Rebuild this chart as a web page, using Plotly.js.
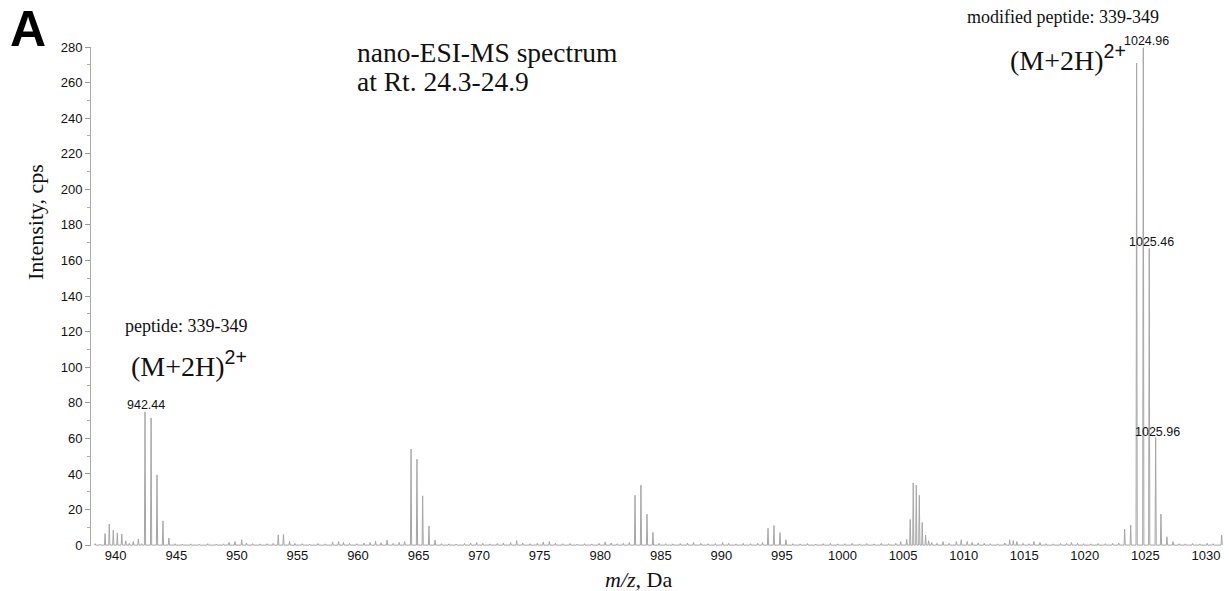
<!DOCTYPE html>
<html>
<head>
<meta charset="utf-8">
<script src="https://cdn.plot.ly/plotly-3.0.1.min.js"></script>
<style>html,body{margin:0;padding:0;background:#fff;}#chart{width:1229px;height:591px;}</style>
</head>
<body>
<div id="chart"></div>
<script>
// m/z of centroid peaks (Da)
const peakMz = [
  938.3, 938.7, 939.12, 939.47, 939.80, 940.13, 940.50, 940.83, 941.12, 941.45, 941.87, 942.15,
  942.42, 942.92, 943.41, 943.90, 944.39,
  944.9, 945.5, 946.2, 946.9, 947.6, 948.3, 948.9, 949.35, 949.85, 950.4, 950.8, 951.3, 951.9, 952.5, 953.0,
  953.42, 953.85, 954.35, 954.8, 955.4, 956.0, 956.7, 957.3, 957.9, 958.4, 958.8, 959.3, 959.9, 960.5, 961.0, 961.45, 961.9, 962.4, 962.9, 963.4, 963.85,
  964.38, 964.87, 965.34, 965.86, 966.36,
  966.9, 967.5, 968.1, 968.8, 969.3, 969.8, 970.3, 970.9, 971.5, 972.0, 972.6, 973.1, 973.6, 974.2, 974.8, 975.3, 975.8, 976.3, 976.9, 977.5, 978.1, 978.7, 979.3, 979.9, 980.4, 980.9, 981.4, 981.9, 982.4,
  982.87, 983.36, 983.86, 984.35, 984.85,
  985.4, 986.0, 986.6, 987.2, 987.7, 988.3, 988.9, 989.5, 990.1, 990.6, 991.2, 991.8, 992.4, 993.0, 993.4,
  993.85, 994.34, 994.84, 995.33,
  995.9, 996.5, 997.1, 997.8, 998.4, 999.0, 999.6, 1000.2, 1000.8, 1001.4, 1002.0, 1002.6, 1003.2, 1003.8, 1004.4, 1004.8,
  1005.30, 1005.59, 1005.84, 1006.09, 1006.34, 1006.58, 1006.86, 1007.11, 1007.36,
  1007.8, 1008.3, 1008.8, 1009.4, 1009.8, 1010.3, 1010.7, 1011.2, 1011.7, 1012.2, 1012.8, 1013.4, 1013.8, 1014.1, 1014.4, 1014.9, 1015.4, 1015.8, 1016.3, 1016.8, 1017.4, 1018.0, 1018.5, 1018.9, 1019.4, 1019.9, 1020.5, 1021.1, 1021.7, 1022.3, 1022.8,
  1023.29, 1023.79, 1024.28, 1024.83, 1025.32, 1025.85, 1026.29, 1026.78, 1027.28,
  1027.8, 1028.3, 1028.9, 1029.5, 1030.1, 1030.6, 1031.30
];
// intensities (cps) of those peaks
const peakIntensity = [
  0.8, 0.5, 6.5, 11.8, 8.4, 6.7, 6.2, 2.4, 1.0, 2.0, 3.4, 0.8,
  74.9, 71.5, 39.5, 13.6, 4.0,
  0.8, 0.6, 0.7, 0.5, 0.8, 0.6, 0.7, 1.5, 2.0, 3.0, 1.2, 0.8, 0.7, 0.8, 1.0,
  5.8, 6.0, 2.2, 1.0, 0.8, 0.6, 0.9, 0.7, 1.8, 2.0, 1.5, 1.0, 0.8, 1.2, 1.5, 2.2, 1.3, 2.8, 1.0, 1.5, 2.0,
  54, 48.3, 27.7, 10.7, 2.8,
  0.8, 0.7, 0.6, 0.9, 1.2, 1.5, 1.0, 0.7, 0.9, 1.2, 1.5, 2.5, 1.2, 0.8, 1.0, 1.8, 2.0, 1.0, 0.8, 0.9, 0.6, 0.8, 0.7, 1.0, 1.8, 1.2, 0.8, 1.0, 1.5,
  28, 33.7, 17.4, 7.1, 1.0,
  0.8, 0.7, 0.9, 1.2, 1.5, 1.0, 0.8, 0.9, 1.5, 1.0, 0.7, 1.0, 0.8, 1.0, 1.5,
  9.5, 11, 7, 3,
  0.8, 0.7, 0.9, 0.6, 0.8, 1.0, 0.7, 0.8, 1.0, 0.7, 0.9, 0.7, 1.0, 0.8, 1.0, 2.0,
  3.2, 14.4, 35, 33.7, 28, 12.7, 5.6, 2.5, 1.5,
  1.0, 2.0, 1.0, 2.0, 3.0, 2.0, 1.5, 1.2, 1.0, 0.8, 0.7, 1.2, 3.0, 2.5, 2.0, 1.0, 0.8, 2.0, 1.5, 0.8, 0.7, 0.9, 1.0, 1.5, 1.0, 0.8, 0.7, 0.9, 0.8, 1.0, 1.2,
  9, 11.2, 271, 279.6, 166.7, 60.5, 17.4, 4.7, 2.0,
  0.8, 0.7, 0.9, 0.7, 1.0, 0.8, 5.6
];
const xTickVals = [940, 945, 950, 955, 960, 965, 970, 975, 980, 985, 990, 995, 1000, 1005, 1010, 1015, 1020, 1025, 1030];
const yTickVals = [0, 20, 40, 60, 80, 100, 120, 140, 160, 180, 200, 220, 240, 260, 280];
const peakLabels = ["942.44", "1024.96", "1025.46", "1025.96"];

// build a stick/profile line from centroid peaks
const halfWidth = 0.05;
const lineX = [], lineY = [];
for (let i = 0; i < peakMz.length; i++) {
  lineX.push(peakMz[i] - halfWidth, peakMz[i], peakMz[i] + halfWidth);
  lineY.push(0, peakIntensity[i], 0);
}

const L = 91, R = 2, T = 47, B = 45, W = 1229, H = 591;
const pw = W - L - R, ph = H - T - B;
const px = v => (v - L) / pw;
const py = v => (H - B - v) / ph;

const serif = "Liberation Serif, Times New Roman, serif";
const sans = "Liberation Sans, Arial, sans-serif";

function ann(text, x, y, size, family, opts) {
  return Object.assign({
    text: text, xref: 'paper', yref: 'paper', x: px(x), y: py(y),
    xanchor: 'left', yanchor: 'middle', showarrow: false,
    font: {family: family, size: size, color: '#111'}
  }, opts || {});
}

const charge = '(M+2H)<sup><span style="font-family:Liberation Sans, Arial, sans-serif">2+</span></sup>';

const annotations = [
  ann('A', 8, 29, 50, sans, {font: {family: sans, size: 50, color: '#000', weight: 'bold'}}),
  ann('nano-ESI-MS spectrum', 355, 52, 27.5, serif),
  ann('at Rt. 24.3-24.9', 355, 82, 27.5, serif),
  ann('modified peptide: 339-349', 965, 17, 18, serif),
  ann(charge, 1008, 58, 28, serif),
  ann('peptide: 339-349', 123, 326, 18, serif),
  ann(charge, 129, 364, 28, serif),
  ann(peakLabels[0], 125, 405, 12.5, sans),
  ann(peakLabels[1], 1121.5, 41, 12.5, sans),
  ann(peakLabels[2], 1126.5, 242, 12.5, sans),
  ann(peakLabels[3], 1133, 432, 12.5, sans),
  ann('Intensity, cps', 35, 222, 22, serif, {xanchor: 'center', textangle: -90}),
  ann('<i>m/z</i>, Da', 638, 579, 22, serif, {xanchor: 'center'})
];

const data = [
  {
    type: 'scatter', mode: 'lines', x: lineX, y: lineY,
    line: {color: '#a6a6a6', width: 1}, hoverinfo: 'skip', showlegend: false
  },
  {
    type: 'scatter', mode: 'markers', x: [937.72], y: [60],
    marker: {symbol: 'triangle-right', size: 7, color: '#333'},
    cliponaxis: false, showlegend: false, hoverinfo: 'skip'
  }
];

const layout = {
  width: W, height: H,
  margin: {l: L, r: R, t: T, b: B, pad: 0},
  paper_bgcolor: '#fff', plot_bgcolor: '#fff',
  showlegend: false,
  xaxis: {
    range: [937.96, 1031.74], tickvals: xTickVals, ticktext: xTickVals.map(String),
    showgrid: false, zeroline: false, showline: false, ticks: '',
    tickfont: {family: sans, size: 13, color: '#111'}, fixedrange: true
  },
  yaxis: {
    range: [-0.5, 280], tickvals: yTickVals, ticktext: yTickVals.map(String),
    showgrid: false, zeroline: false, showline: true, linecolor: '#aaa', linewidth: 1,
    ticks: 'outside', ticklen: 5, tickcolor: '#999', tickwidth: 1,
    minor: {dtick: 10, tick0: 0, ticks: 'outside', ticklen: 3, tickcolor: '#aaa'},
    tickfont: {family: sans, size: 13, color: '#111'}, fixedrange: true
  },
  annotations: annotations
};

Plotly.newPlot('chart', data, layout, {displayModeBar: false, staticPlot: true});
</script>
</body>
</html>
